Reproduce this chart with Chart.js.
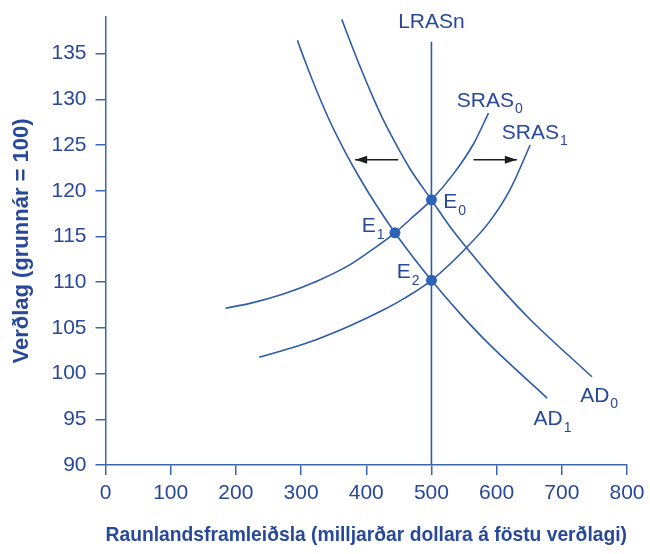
<!DOCTYPE html>
<html>
<head>
<meta charset="utf-8">
<script src="https://cdn.jsdelivr.net/npm/chart.js@4.4.1/dist/chart.umd.min.js"></script>
<style>
html,body{margin:0;padding:0;background:#ffffff;}
#wrap{width:650px;height:554px;position:relative;}
</style>
</head>
<body>
<div id="wrap"><canvas id="c" width="650" height="554"></canvas></div>
<script>
// ---- data ----
const xTicks = [0, 100, 200, 300, 400, 500, 600, 700, 800];
const yTicks = [90, 95, 100, 105, 110, 115, 120, 125, 130, 135];

const lrasX = [500, 500];
const lrasY = [90, 136.3];

const sras0X = [184, 221.7, 272.9, 324.1, 375.2, 408.5, 444, 471.9, 500, 533.8, 564.5, 587.5];
const sras0Y = [107.15, 107.68, 108.7, 110.09, 111.91, 113.52, 115.4, 117.16, 119.0, 121.84, 125.11, 128.48];

const sras1X = [236, 272.9, 324.1, 375.2, 421.3, 459.6, 500, 553.3, 590.1, 620.8, 651.5];
const sras1Y = [101.8, 102.54, 103.74, 105.23, 106.78, 108.28, 110.2, 113.74, 116.7, 120.14, 125.0];

const ad0X = [362.5, 375.2, 387.5, 399.8, 412.1, 424.3, 444.3, 467.3, 500, 528.6, 553.3, 605.3, 651.5, 746.2];
const ad0Y = [138.74, 136.34, 134.11, 131.97, 129.93, 128.02, 125.25, 122.38, 119.0, 116.05, 113.81, 109.43, 105.92, 99.65];

const ad1X = [294.4, 306.2, 318.4, 330.7, 344.5, 367.6, 390.6, 413.6, 444, 471.9, 500, 544, 588.5, 677.5];
const ad1Y = [136.45, 134.15, 131.91, 129.78, 127.54, 124.26, 121.31, 118.63, 115.4, 112.72, 110.2, 106.56, 103.22, 97.32];

const eqNames = ['E0', 'E1', 'E2'];
const eqX = [500, 444, 500];
const eqY = [119, 115.4, 110.2];

const arrowLeftX = [449, 383];
const arrowLeftY = [123.4, 123.4];
const arrowRightX = [564.5, 631];
const arrowRightY = [123.4, 123.4];

// curve / point labels: text, subscript, anchor in data units
const labelText = ['LRASn', 'SRAS', 'SRAS', 'E', 'E', 'E', 'AD', 'AD'];
const labelSub  = ['', '0', '1', '0', '1', '2', '0', '1'];
const labelX    = [500, 539, 608, 518, 393.2, 446.9, 728.2, 656.5];
const labelY    = [137.8, 129.16, 125.7, 118.1, 115.43, 110.4, 96.92, 94.37];

// ---- styles ----
const lineColor = '#2f5ca8';
const axisColor = '#3a66b2';
const textColor = '#28489a';
const dotColor = '#2d62b9';
const arrowColor = '#1e1e1e';

const pts = (xs, ys) => xs.map((x, i) => ({x: x, y: ys[i]}));

Chart.defaults.font.family = "'Liberation Sans', Arial, Helvetica, sans-serif";

const curve = (data) => ({
  data: data, showLine: true, pointRadius: 0, pointHoverRadius: 0,
  borderColor: lineColor, borderWidth: 1.6, fill: false,
  cubicInterpolationMode: 'monotone'
});

const labelPlugin = {
  id: 'labelPlugin',
  afterDatasetsDraw(chart) {
    const ctx = chart.ctx;
    const xs = chart.scales.x, ys = chart.scales.y;
    ctx.save();
    // arrowheads
    [3, 4].forEach(di => {
      const meta = chart.getDatasetMeta(di);
      const p0 = meta.data[0], p1 = meta.data[1];
      const a = Math.atan2(p1.y - p0.y, p1.x - p0.x);
      const L = 12, W = 4;
      ctx.fillStyle = arrowColor;
      ctx.beginPath();
      ctx.moveTo(p1.x, p1.y);
      ctx.lineTo(p1.x - L * Math.cos(a) + W * Math.sin(a), p1.y - L * Math.sin(a) - W * Math.cos(a));
      ctx.lineTo(p1.x - L * Math.cos(a) - W * Math.sin(a), p1.y - L * Math.sin(a) + W * Math.cos(a));
      ctx.closePath();
      ctx.fill();
    });
    // text labels
    ctx.fillStyle = textColor;
    ctx.textBaseline = 'alphabetic';
    labelText.forEach((t, i) => {
      const px = xs.getPixelForValue(labelX[i]);
      const py = ys.getPixelForValue(labelY[i]);
      ctx.font = "21px 'Liberation Sans', Arial, sans-serif";
      if (!labelSub[i]) {
        ctx.textAlign = 'center';
        ctx.fillText(t, px, py);
      } else {
        ctx.textAlign = 'left';
        ctx.fillText(t, px, py);
        const w = ctx.measureText(t).width;
        ctx.font = "14px 'Liberation Sans', Arial, sans-serif";
        ctx.fillText(labelSub[i], px + w + 1, py + 6.5);
      }
    });
    ctx.restore();
  }
};

new Chart(document.getElementById('c'), {
  type: 'scatter',
  data: {
    datasets: [
      { data: pts(eqX, eqY), showLine: false, pointRadius: 5.5, pointHoverRadius: 5.5,
        pointBackgroundColor: dotColor, pointBorderWidth: 0, label: 'E' },
      Object.assign(curve(pts(lrasX, lrasY)), {cubicInterpolationMode: 'default', tension: 0}),
      curve(pts(sras0X, sras0Y)),
      { data: pts(arrowLeftX, arrowLeftY), showLine: true, pointRadius: 0, borderColor: arrowColor, borderWidth: 1.5, tension: 0 },
      { data: pts(arrowRightX, arrowRightY), showLine: true, pointRadius: 0, borderColor: arrowColor, borderWidth: 1.5, tension: 0 },
      curve(pts(sras1X, sras1Y)),
      curve(pts(ad0X, ad0Y)),
      curve(pts(ad1X, ad1Y))
    ]
  },
  options: {
    responsive: false,
    animation: false,
    events: [],
    layout: { padding: { top: 17, right: 23, bottom: 0, left: 0 } },
    plugins: { legend: { display: false }, tooltip: { enabled: false } },
    scales: {
      x: {
        type: 'linear', position: 'bottom', min: 0, max: 800,
        afterBuildTicks: s => { s.ticks = xTicks.map(v => ({value: v})); },
        afterFit: s => { s.height = 89; s.paddingLeft = 0; s.paddingRight = 0; },
        grid: { display: true, drawOnChartArea: false, drawTicks: true, tickLength: 10, color: axisColor, lineWidth: 1.5 },
        border: { display: true, color: axisColor, width: 1.5 },
        ticks: { color: textColor, font: { size: 21 }, padding: 6, maxRotation: 0, autoSkip: false },
        title: { display: true, text: 'Raunlandsframleiðsla (milljarðar dollara á föstu verðlagi)',
                 color: textColor, font: { size: 21, weight: 'bold' }, padding: { top: 0, bottom: 6 } }
      },
      y: {
        type: 'linear', position: 'left', min: 90, max: 139,
        afterBuildTicks: s => { s.ticks = yTicks.map(v => ({value: v})); },
        afterFit: s => { s.width = 105.5; s.paddingTop = 0; s.paddingBottom = 0; },
        grid: { display: true, drawOnChartArea: false, drawTicks: true, tickLength: 10, color: axisColor, lineWidth: 1.5 },
        border: { display: true, color: axisColor, width: 1.5 },
        ticks: { color: textColor, font: { size: 21 }, padding: 9, autoSkip: false },
        title: { display: true, text: 'Verðlag (grunnár = 100)',
                 color: textColor, font: { size: 22, weight: 'bold' }, padding: { top: 9, bottom: 0 } }
      }
    }
  },
  plugins: [labelPlugin]
});
</script>
</body>
</html>
